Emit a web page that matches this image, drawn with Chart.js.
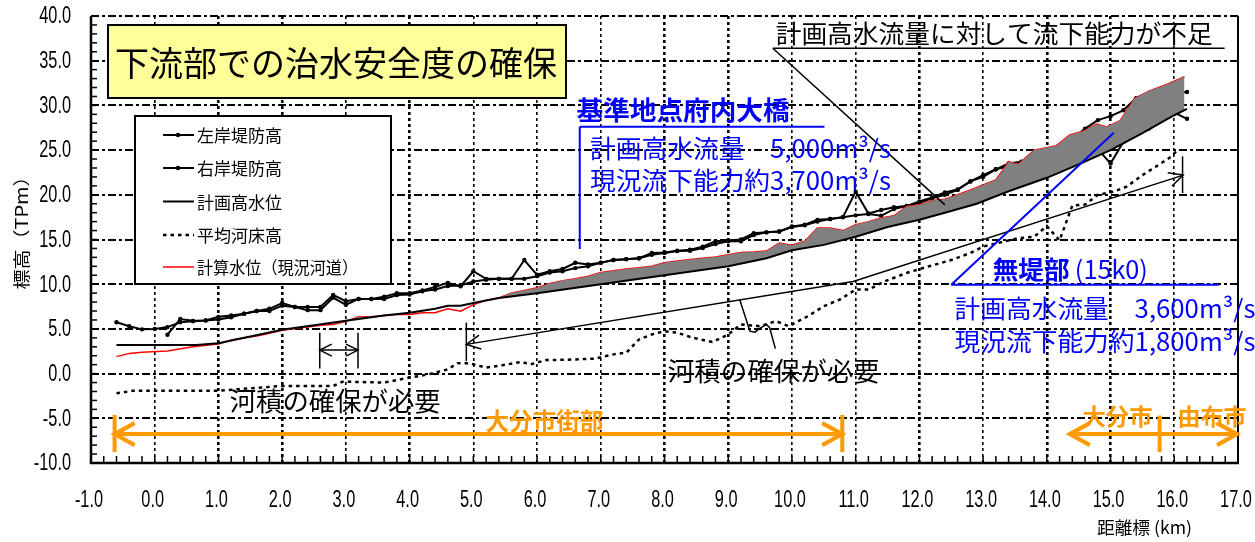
<!DOCTYPE html>
<html lang="ja">
<head>
<meta charset="utf-8">
<title>下流部での治水安全度の確保</title>
<script src="https://cdn.jsdelivr.net/npm/chart.js@4.4.0/dist/chart.umd.min.js"></script>
<style>
  html, body { margin: 0; padding: 0; background: #fff; }
  canvas { display: block; }
</style>
</head>
<body>
<canvas id="profile" width="1255" height="542"></canvas>
<script>
// ---- 縦断データ（距離標 km / 標高 T.P.m） ----
const leftLeveeKm = [-0.6,-0.4,-0.2,0.0,0.2, 0.4,0.6,0.8,1.0,1.2, 1.4,1.6,1.8,2.0,2.2, 2.4,2.6,2.8,3.0,3.2,
  3.4,3.6,3.8,4.0,4.2, 4.4,4.6,4.8,5.0,5.2, 5.4,5.6,5.8,6.0,6.2, 6.4,6.6,6.8,7.0,7.2, 7.4,7.6,7.8,8.0,8.2,
  8.4,8.6,8.8,9.0,9.2, 9.4,9.6,9.8,10.0,10.2, 10.4,10.6,10.8,11.0,11.2, 11.4,11.6,11.8,12.0,12.2,
  12.4,12.6,12.8,13.0,13.2, 13.4,13.6,13.8,14.0,14.2, 14.4,14.6,14.8,15.0,15.2, 15.4,15.6,15.8,16.0,16.2];
const leftLeveeEl = [5.75,5.3,4.95,5.0,5.2, 5.75,5.85,5.95,6.05,6.3, 6.7,7.0,7.0,7.6,7.45, 7.1,7.1,8.5,7.7,8.35,
  8.35,8.35,8.8,8.85,9.2, 9.4,9.8,9.85,10.3,10.5, 10.6,10.6,10.6,10.9,11.3, 11.45,11.8,12.0,12.4,12.7,
  12.8,12.9,13.3,13.5,13.7, 13.75,14.05,14.5,14.8,14.8, 15.5,15.8,15.9,16.4,16.6, 17.0,17.3,17.5,17.7,17.85,
  17.65,18.4,18.75,19.1,19.6, 20.0,20.55,21.5,22.0,22.85, 23.5,23.7,24.3,24.8,25.3, 26.2,27.4,28.35,28.8,29.45,
  30.8,31.0,31.2,31.35,31.5];

const rightLeveeKm = [0.2,0.4,0.6,0.8,1.0, 1.2,1.4,1.6,1.8,2.0, 2.2,2.4,2.6,2.8,3.0, 3.2,3.4,3.6,3.8,4.0,
  4.2,4.4,4.6,4.8,5.0, 5.2,5.4,5.6,5.8,6.0, 6.2,6.4,6.6,6.8,7.0, 7.2,7.4,7.6,7.8,8.0, 8.2,8.4,8.6,8.8,9.0,
  9.2,9.4,9.6,9.8,10.0, 10.2,10.4,10.6,10.8,11.0, 11.2,11.4,11.6,11.8,12.0, 12.2,12.4,12.6,12.8,13.0,
  13.2,13.4,13.6,13.8,14.0, 14.2,14.4,14.6,14.8,15.0, 15.2,15.4,15.6,15.8,16.0, 16.2];
const rightLeveeEl = [4.35,6.1,5.9,5.95,6.35, 6.5,6.7,7.0,7.25,7.9, 7.45,7.45,7.45,8.8,8.1, 8.35,8.35,8.6,9.0,9.0,
  9.3,9.7,10.15,9.77,11.45, 10.6,10.6,10.6,12.7,11.05, 11.45,11.7,12.4,12.2,12.4, 12.7,12.8,12.9,13.5,13.55,
  13.75,13.85,14.2,14.8,14.9, 15.0,15.7,15.8,15.9,16.45, 16.65,17.2,17.3,17.5,20.35, 17.9,18.3,18.6,18.75,19.25,
  19.7,20.25,20.6,21.5,22.2, 22.85,23.2,22.3,22.6,22.8, 23.3,23.8,24.4,25.1,23.5, 25.9,26.7,27.4,28.4,29.2, 28.5];

const planKm = [-0.6,0.65,1.0,2.0,3.0,3.6,4.0,4.4,4.6,4.8,5.0,5.4,6.0,6.5,7.0,8.0,9.0,9.6,10.0,10.5,
  11.0,11.5,12.0,12.4,12.9,13.4,14.0,14.5,15.0,15.5,16.0,16.2];
const planEl = [3.2,3.2,3.4,4.9,5.9,6.5,6.8,7.25,7.6,7.6,7.9,8.45,9.0,9.5,10.0,11.0,12.0,12.9,13.8,14.4,
  15.3,16.4,17.2,18.0,19.0,20.4,21.9,23.4,25.0,26.9,28.9,29.6];

const bedKm = [-0.6,-0.35,0.97,2.0,2.8,2.95,3.6,4.0,4.3,4.6,4.75,4.9,5.0,5.2,5.45,5.75,5.9,6.15,6.45,6.9,
  7.2,7.4,7.6,7.8,8.0,8.2,8.45,8.75,9.0,9.2,9.5,9.75,9.95,10.25,10.5,10.75,11.0,11.2,11.45,11.8,
  12.15,12.5,12.8,13.0,13.55,13.8,14.0,14.2,14.4,14.6,14.8,15.05,15.25,15.5,15.7,15.95,16.05];
const bedEl = [-2.2,-1.93,-1.93,-1.38,-1.38,-0.9,-1.0,-0.45,-0.08,0.48,1.15,1.15,1.04,0.67,0.93,1.3,1.04,1.52,1.55,1.67,
  2.15,2.34,3.82,4.38,4.75,4.57,4.0,3.53,4.38,5.5,5.3,5.87,5.3,6.42,7.54,8.28,9.4,9.4,10.3,11.26,
  12.0,12.7,13.5,14.2,15.15,15.3,16.5,14.9,18.8,18.9,20.0,20.35,20.9,22.2,23.1,24.25,25.0];

const calcKm = [-0.6,-0.4,-0.2,0.2,0.6, 1.0,1.2,1.4,1.6,1.8, 2.0,2.2,2.4,2.6,2.8, 3.0,3.2,3.4,3.6,3.8,
  4.0,4.2,4.4,4.6,4.8, 5.0,5.2,5.4,5.6,5.8, 6.0,6.2,6.4,6.6,6.8, 7.0,7.2,7.4,7.6,7.8, 8.0,8.2,8.4,8.6,8.8,
  9.0,9.2,9.4,9.6,9.8, 10.0,10.2,10.4,10.6,10.8, 11.0,11.2,11.4,11.6,11.8, 12.0,12.2,12.4,12.6,12.8,
  13.0,13.2,13.4,13.55,13.8, 14.15,14.36,14.57,14.78,14.94, 15.15,15.38,15.6,15.9,16.16];
const calcEl = [1.9,2.26,2.4,2.52,3.0, 3.3,3.75,4.0,4.2,4.5, 4.85,5.05,5.2,5.4,5.5, 5.85,6.35,6.35,6.5,6.6,
  6.6,6.8,6.8,7.25,6.98, 7.72,8.2,8.47,9.03,9.3, 9.6,10.07,10.4,10.6,10.9, 11.3,11.5,11.7,11.85,12.0,
  12.4,12.6,12.75,12.9,13.05, 13.3,13.55,13.6,13.7,14.6, 14.35,14.8,16.3,16.3,16.0, 16.65,17.0,17.4,17.65,18.7,
  18.9,19.35,19.5,20.0,20.55, 21.1,21.65,23.7,23.4,25.0, 25.5,26.7,27.1,27.9,27.6, 28.3,30.8,31.6,32.4,33.2];

const seriesNames = ['左岸堤防高', '右岸堤防高', '計画高水位', '平均河床高', '計算水位（現況河道）'];
const kmTickLabels = ['-1.0','0.0','1.0','2.0','3.0','4.0','5.0','6.0','7.0','8.0','9.0','10.0',
  '11.0','12.0','13.0','14.0','15.0','16.0','17.0'];

const pts = (xs, ys) => xs.map((x, i) => ({ x, y: ys[i] }));

const JP = "'Noto Sans CJK JP', 'Noto Sans', sans-serif";
const NUM = "'Liberation Sans', Arial, sans-serif";
const BLUE = '#0000FF';
const ORANGE = '#FF9900';
const NARROW = 0.71;   // 目盛数字の長体率

// 横方向の寸法を合わせて文字を描く
function label(ctx, str, x, y, font, color, width) {
  ctx.save();
  ctx.font = font;
  ctx.fillStyle = color;
  ctx.textBaseline = 'middle';
  ctx.textAlign = 'left';
  const w = ctx.measureText(str).width;
  ctx.translate(x, y);
  if (width) ctx.scale(width / w, 1);
  ctx.fillText(str, 0, 0);
  ctx.restore();
}

// 長体の数字（align: 'center' | 'right'）
function narrowText(ctx, str, x, y, align) {
  ctx.save();
  ctx.font = `23px ${NUM}`;
  ctx.fillStyle = '#000';
  ctx.textBaseline = 'middle';
  ctx.textAlign = align;
  ctx.translate(x, y);
  ctx.scale(NARROW, 1);
  ctx.fillText(str, 0, 0);
  ctx.restore();
}

// 開いた矢じり
function chevron(ctx, tx, ty, fx, fy, len, half) {
  const a = Math.atan2(ty - fy, tx - fx);
  const da = Math.atan2(half, len);
  const l = Math.hypot(len, half);
  ctx.beginPath();
  ctx.moveTo(tx - l * Math.cos(a - da), ty - l * Math.sin(a - da));
  ctx.lineTo(tx, ty);
  ctx.lineTo(tx - l * Math.cos(a + da), ty - l * Math.sin(a + da));
  ctx.stroke();
}

function seg(ctx, x1, y1, x2, y2) {
  ctx.beginPath(); ctx.moveTo(x1, y1); ctx.lineTo(x2, y2); ctx.stroke();
}

// 枠線と補助目盛
const framePlugin = {
  id: 'frame',
  beforeDatasetsDraw(chart) {
    const { ctx, chartArea: a, scales: { x, y } } = chart;
    ctx.save();
    ctx.strokeStyle = '#000';
    ctx.lineWidth = 1.5;
    for (let k = 0; k <= 90; k++) {
      const px = x.getPixelForValue(-1 + k * 0.2);
      seg(ctx, px, a.bottom, px, a.bottom - 7);
    }
    for (let k = 0; k <= 50; k++) {
      const py = y.getPixelForValue(-10 + k);
      seg(ctx, a.left, py, a.left + 6, py);
    }
    ctx.lineWidth = 2.5;
    seg(ctx, a.left, a.top, a.left, a.bottom + 1);
    seg(ctx, a.left - 1, a.bottom, a.right + 1, a.bottom);
    ctx.lineWidth = 2;
    seg(ctx, a.right, a.top, a.right, a.bottom);
    ctx.restore();
  },
  afterDraw(chart) {
    const { ctx, chartArea: a, scales: { x, y } } = chart;
    x.ticks.forEach((t, i) => {
      narrowText(ctx, kmTickLabels[i] ?? t.value.toFixed(1), x.getPixelForTick(i) - 2, a.bottom + 38, 'center');
    });
    y.ticks.forEach((t, i) => {
      narrowText(ctx, Number(t.value).toFixed(1), a.left - 20, y.getPixelForTick(i) + 1, 'right');
    });
  }
};

// 注記・凡例・表題
const notesPlugin = {
  id: 'notes',
  afterDatasetsDraw(chart) {
    const { ctx, scales: { x, y } } = chart;
    const X = v => x.getPixelForValue(v);
    const Y = v => y.getPixelForValue(v);
    ctx.save();
    ctx.lineCap = 'butt';

    // 表題
    ctx.fillStyle = '#FFFF99';
    ctx.fillRect(108, 25, 458, 73);
    ctx.strokeStyle = '#000';
    ctx.lineWidth = 2;
    ctx.strokeRect(108, 25, 458, 73);
    label(ctx, '下流部での治水安全度の確保', 115, 63, `34px ${JP}`, '#000', 442);

    // 凡例
    ctx.fillStyle = '#fff';
    ctx.fillRect(135, 116, 256, 168);
    ctx.lineWidth = 2;
    ctx.strokeStyle = '#000';
    ctx.strokeRect(135, 116, 256, 168);
    const rows = [135, 168, 201.5, 235, 267];
    const ds = chart.data.datasets;
    rows.forEach((ry, i) => {
      const d = ds[i];
      ctx.save();
      ctx.strokeStyle = d.borderColor;
      ctx.lineWidth = d.borderWidth;
      ctx.setLineDash(d.borderDash || []);
      seg(ctx, 163, ry, 194, ry);
      ctx.restore();
      if (d.pointRadius) {
        ctx.fillStyle = '#000';
        ctx.beginPath(); ctx.arc(178, ry, 2.2, 0, Math.PI * 2); ctx.fill();
      }
      const widths = [85, 85, 85, 85, 161];
      label(ctx, seriesNames[i], 197, ry + 1, `17px ${JP}`, '#000', widths[i]);
    });

    // 流下能力不足の注記
    ctx.strokeStyle = '#000';
    ctx.lineWidth = 1.5;
    label(ctx, '計画高水流量に対して流下能力が不足', X(9.745), Y(38.05), `25px ${JP}`, '#000', 437);
    seg(ctx, X(9.70), Y(36.4), X(16.79), Y(36.4));
    seg(ctx, X(9.70), Y(36.4), X(12.40), Y(18.87));

    // 河積確保の寸法線
    ctx.lineWidth = 1.5;
    ctx.beginPath();
    ctx.moveTo(X(4.89), Y(3.27)); ctx.lineTo(X(10.96), Y(10.3)); ctx.lineTo(X(16.14), Y(22.2));
    ctx.stroke();
    chevron(ctx, X(4.89), Y(3.27), X(10.96), Y(10.3), 14, 7);
    chevron(ctx, X(16.14), Y(22.2), X(10.96), Y(10.3), 14, 7);
    seg(ctx, X(4.89), Y(1.4), X(4.89), Y(5.7));
    seg(ctx, X(16.13), Y(20.2), X(16.13), Y(24.3));

    // 狭窄部の寸法線
    seg(ctx, X(2.59), Y(0.56), X(2.59), Y(4.57));
    seg(ctx, X(3.19), Y(0.56), X(3.19), Y(4.57));
    seg(ctx, X(2.59), Y(2.63), X(3.19), Y(2.63));
    chevron(ctx, X(2.59), Y(2.63), X(3.19), Y(2.63), 12, 6);
    chevron(ctx, X(3.19), Y(2.63), X(2.59), Y(2.63), 12, 6);

    // 引出線
    ctx.beginPath();
    [[9.18, 8.28], [9.34, 4.75], [9.42, 4.64], [9.49, 5.02], [9.6, 5.5], [9.65, 5.13], [9.74, 2.79]]
      .forEach(([a, b], i) => (i ? ctx.lineTo(X(a), Y(b)) : ctx.moveTo(X(a), Y(b))));
    ctx.stroke();

    label(ctx, '河積の確保が必要', X(1.177), Y(-3.09), `26px ${JP}`, '#000', 211);
    label(ctx, '河積の確保が必要', X(8.05), Y(0.26), `26px ${JP}`, '#000', 212);

    // 基準地点府内大橋
    ctx.strokeStyle = BLUE;
    ctx.lineWidth = 2;
    seg(ctx, X(6.67), Y(27.6), X(10.51), Y(27.6));
    seg(ctx, X(6.67), Y(27.6), X(6.67), Y(13.94));
    label(ctx, '基準地点府内大橋', X(6.62), Y(29.46), `bold 26px ${JP}`, BLUE, 213);
    label(ctx, '計画高水流量　5,000m³/s', X(6.83), Y(25.2), `25px ${JP}`, BLUE, 301);
    label(ctx, '現況流下能力約3,700m³/s', X(6.83), Y(21.6), `25px ${JP}`, BLUE, 301);

    // 無堤部
    seg(ctx, X(12.50), Y(9.95), X(16.70), Y(9.95));
    seg(ctx, X(12.50), Y(9.95), X(15.05), Y(26.93));
    label(ctx, '無堤部', X(13.15), Y(11.63), `bold 25px ${JP}`, BLUE, 77);
    label(ctx, '(15k0)', X(14.44), Y(11.63), `25px ${JP}`, BLUE, 73);
    label(ctx, '計画高水流量　3,600m³/s', X(12.55), Y(7.25), `25px ${JP}`, BLUE, 301);
    label(ctx, '現況流下能力約1,800m³/s', X(12.55), Y(3.63), `25px ${JP}`, BLUE, 301);

    // 区間表示
    ctx.strokeStyle = ORANGE;
    ctx.lineWidth = 4;
    const oy = Y(-6.77);
    seg(ctx, X(-0.63), oy, X(10.79), oy);
    seg(ctx, X(-0.63), Y(-4.63), X(-0.63), Y(-8.78));
    seg(ctx, X(10.79), Y(-4.63), X(10.79), Y(-8.78));
    chevron(ctx, X(-0.63), oy, X(10.79), oy, 20, 11);
    chevron(ctx, X(10.79), oy, X(-0.63), oy, 20, 11);
    label(ctx, '大分市街部', X(5.19), Y(-5.28), `bold 24px ${JP}`, ORANGE, 118);

    seg(ctx, X(14.36), oy, X(17.0), oy);
    seg(ctx, X(15.77), Y(-4.7), X(15.77), Y(-8.78));
    chevron(ctx, X(14.36), oy, X(17.0), oy, 20, 11);
    chevron(ctx, X(17.0) - 1, oy, X(14.36), oy, 20, 11);
    label(ctx, '大分市', X(14.56), Y(-4.73), `bold 23px ${JP}`, ORANGE, 70);
    label(ctx, '由布市', X(16.05), Y(-4.73), `bold 23px ${JP}`, ORANGE, 69);

    ctx.restore();
  },
  afterDraw(chart) {
    const { ctx } = chart;
    ctx.save();
    // 縦軸名
    ctx.translate(22, 228);
    ctx.rotate(-Math.PI / 2);
    ctx.font = `17px ${JP}`;
    const s = '標高（TPm）';
    const w = ctx.measureText(s).width;
    ctx.scale(123 / w, 1);
    ctx.fillStyle = '#000';
    ctx.textAlign = 'center';
    ctx.textBaseline = 'middle';
    ctx.fillText(s, 0, 0);
    ctx.restore();
    // 横軸名
    label(ctx, '距離標 (km)', 1097, 528, `17px ${JP}`, '#000', 95);
  }
};

const thickKm = [1, 2, 4, 8, 9, 12, 14, 15];

new Chart(document.getElementById('profile'), {
  type: 'line',
  data: {
    datasets: [
      { label: seriesNames[0], data: pts(leftLeveeKm, leftLeveeEl), borderColor: '#000', borderWidth: 2,
        pointRadius: 2.2, pointBackgroundColor: '#000', pointBorderWidth: 0, order: 3 },
      { label: seriesNames[1], data: pts(rightLeveeKm, rightLeveeEl), borderColor: '#000', borderWidth: 2,
        pointRadius: 2.2, pointBackgroundColor: '#000', pointBorderWidth: 0, order: 3 },
      { label: seriesNames[2], data: pts(planKm, planEl), borderColor: '#000', borderWidth: 2,
        pointRadius: 0, order: 0 },
      { label: seriesNames[3], data: pts(bedKm, bedEl), borderColor: '#000', borderWidth: 2.5,
        borderDash: [3.5, 4], pointRadius: 0, order: 4 },
      { label: seriesNames[4], data: pts(calcKm, calcEl), borderColor: '#FF0000', borderWidth: 1.5,
        pointRadius: 0, order: 2 },
      { label: '流下能力不足', data: pts(calcKm, calcEl), borderColor: 'rgba(0,0,0,0)', borderWidth: 0,
        pointRadius: 0, order: 1,
        fill: { target: 2, above: '#808080', below: 'rgba(0,0,0,0)' } }
    ]
  },
  options: {
    responsive: false,
    animation: false,
    devicePixelRatio: 1,
    layout: { padding: { top: 16, right: 17, left: 0, bottom: 0 } },
    elements: { line: { tension: 0 } },
    plugins: { legend: { display: false }, tooltip: { enabled: false } },
    scales: {
      x: {
        type: 'linear', min: -1, max: 17,
        afterFit: s => { s.height = 79; },
        afterBuildTicks: s => { s.ticks = kmTickLabels.map(t => ({ value: parseFloat(t) })); },
        ticks: { display: false, autoSkip: false },
        grid: {
          drawTicks: false,
          color: c => (c.tick && (c.tick.value === -1 || c.tick.value === 17)) ? 'rgba(0,0,0,0)' : '#000',
          lineWidth: c => (c.tick && thickKm.includes(c.tick.value)) ? 2.6 : 1.6
        },
        border: { display: false, dash: [3, 3] }
      },
      y: {
        type: 'linear', min: -10, max: 40,
        afterFit: s => { s.width = 91; },
        ticks: { display: false, stepSize: 5 },
        grid: { drawTicks: false, color: '#000', lineWidth: 2 },
        border: { display: false, dash: [8, 3, 3, 3] }
      }
    }
  },
  plugins: [framePlugin, notesPlugin]
});
</script>
</body>
</html>
